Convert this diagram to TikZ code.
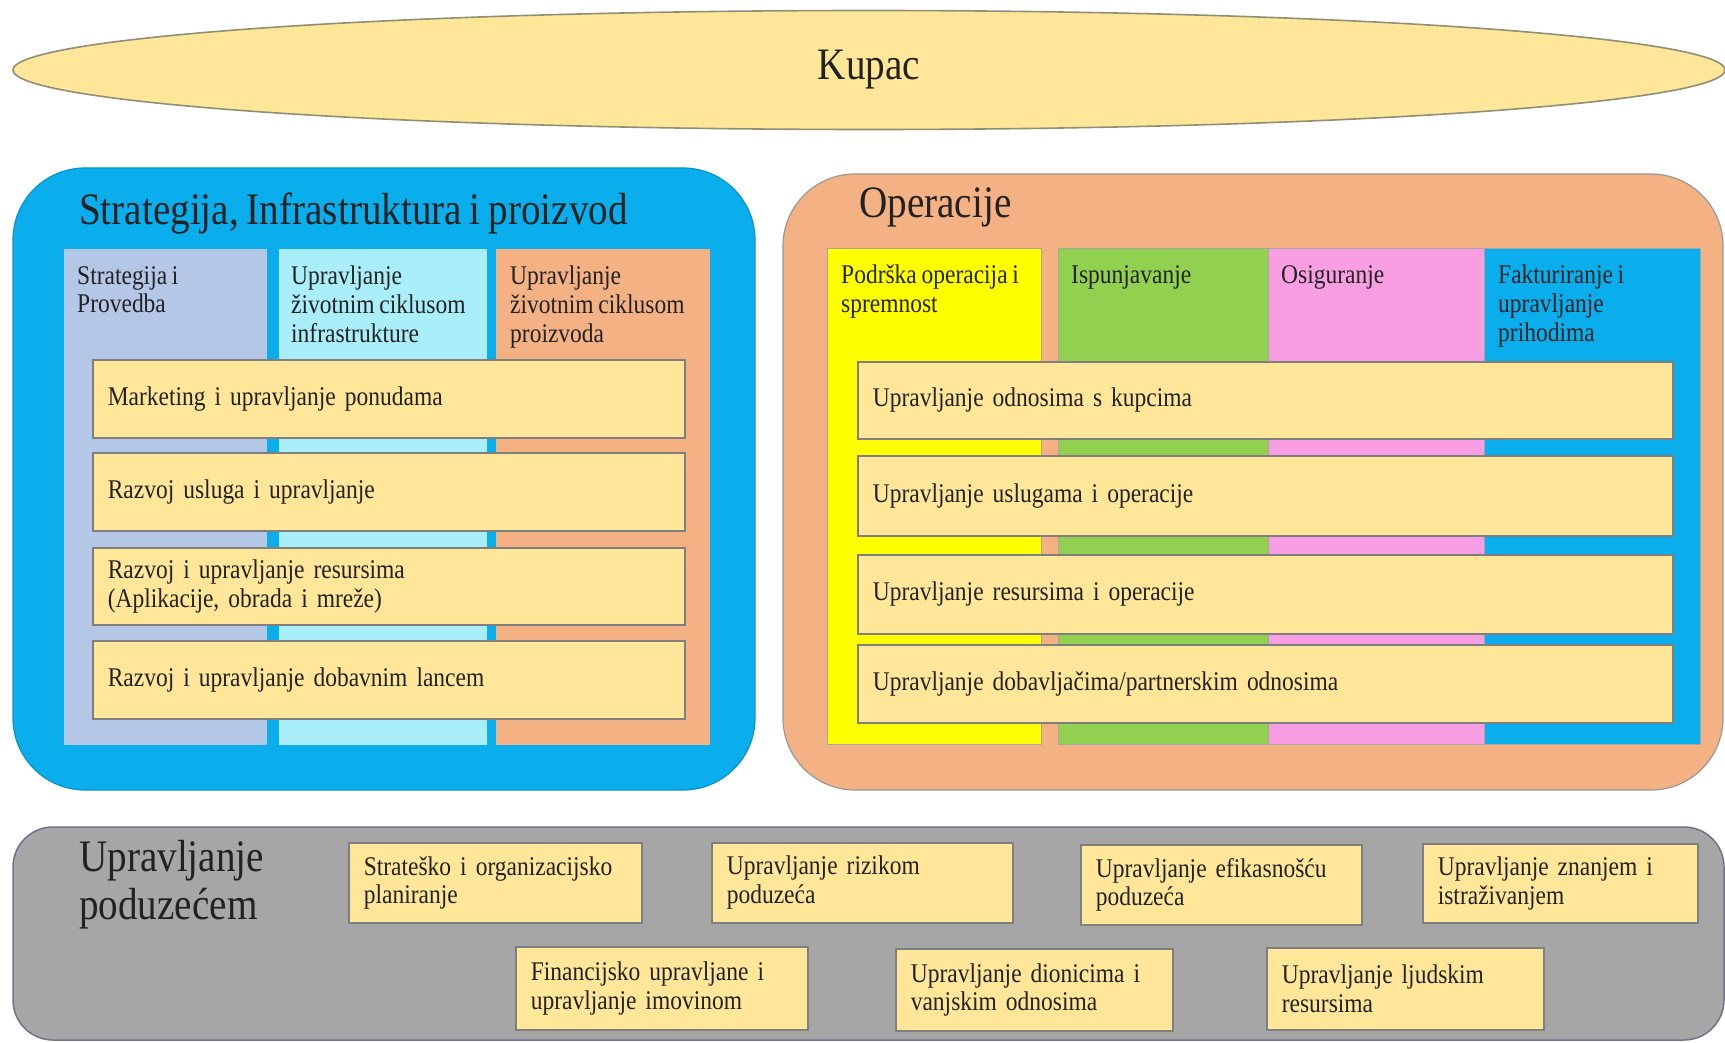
\documentclass[tikz,border=0pt]{standalone}
\usepackage{fontspec}
% slightly condensed Times-like face with tighter word spaces
\setmainfont{Liberation Serif}[FakeStretch=0.87, WordSpace=0.8]
\usetikzlibrary{shapes.geometric}

\definecolor{kgold}{HTML}{FFE699}
\definecolor{kgoldline}{HTML}{8F8F75}
\definecolor{sipblue}{HTML}{0BAEEC}
\definecolor{colsteel}{HTML}{B4C7E7}
\definecolor{colcyan}{HTML}{A9EEF9}
\definecolor{salmon}{HTML}{F4B183}
\definecolor{opyellow}{HTML}{FFFF00}
\definecolor{opgreen}{HTML}{92D050}
\definecolor{oppink}{HTML}{F99EE2}
\definecolor{upgray}{HTML}{A6A6A6}
\definecolor{boxline}{HTML}{7F7F7F}
\definecolor{inktext}{HTML}{222222}

\tikzset{
  bodyfont/.style={font=\fontsize{27}{28.6}\selectfont, text=inktext},
  titlefont/.style={font=\fontsize{45}{48}\selectfont, text=inktext},
  panel/.style={rounded corners=72pt, line width=1.2pt},
  colbox/.style={anchor=north west, inner sep=0pt, minimum height=496pt},
  colhead/.style={bodyfont, anchor=north west, inner sep=0pt, align=left},
  rowbar/.style={bodyfont, anchor=north west, fill=kgold, draw=boxline,
    line width=1.6pt, inner xsep=15pt, inner ysep=0pt, align=left},
  mgmtbox/.style={bodyfont, anchor=north west, fill=kgold, draw=boxline,
    line width=1.6pt, inner xsep=15pt, inner ysep=0pt, align=left}
}

\begin{document}
\begin{tikzpicture}[x=1pt, y=-1pt]
\useasboundingbox (0,0) rectangle (1725,1043);
\fill[white] (0,0) rectangle (1725,1043);

% customer ellipse
\node[ellipse, draw=kgoldline, line width=1.6pt, fill=kgold, minimum width=1712pt,
  minimum height=119pt, titlefont] (kupac) at (869,70) {Kupac};

% ---------- Strategy, infrastructure and product ----------
\draw[panel, fill=sipblue, draw=sipblue!85!black] (13,168) rectangle (755,790);
\node[titlefont, anchor=west, inner sep=0pt] (siptitle) at (79,214)
  {Strategija, Infrastruktura i proizvod};

\node[colbox, fill=colsteel, minimum width=203pt] (sipc1) at (64,249) {};
\node[colbox, fill=colcyan, minimum width=208pt] (sipc2) at (279,249) {};
\node[colbox, fill=salmon, minimum width=214pt] (sipc3) at (496,249) {};

\node[colhead] (siph1) at (77,266) {Strategija i\\Provedba};
\node[colhead] (siph2) at (291,266) {Upravljanje\\životnim ciklusom\\infrastrukture};
\node[colhead] (siph3) at (510,266) {Upravljanje\\životnim ciklusom\\proizvoda};

\node[rowbar, minimum width=592pt, text width=562pt, minimum height=78pt] (sipr1)
  at (92,359) {Marketing i upravljanje ponudama};
\node[rowbar, minimum width=592pt, text width=562pt, minimum height=78pt] (sipr2)
  at (92,452) {Razvoj usluga i upravljanje};
\node[rowbar, minimum width=592pt, text width=562pt, minimum height=77pt] (sipr3)
  at (92,547) {Razvoj i upravljanje resursima\\(Aplikacije, obrada i mreže)};
\node[rowbar, minimum width=592pt, text width=562pt, minimum height=78pt] (sipr4)
  at (92,640) {Razvoj i upravljanje dobavnim lancem};

% ---------- Operations ----------
\draw[panel, fill=salmon, draw=boxline!80] (783,174) rectangle (1723,790);
\node[titlefont, anchor=west, inner sep=0pt] (optitle) at (859,207) {Operacije};

\node[colbox, fill=opyellow, draw=boxline!70, line width=0.8pt, minimum width=214pt] (opc1) at (827,248) {};
\node[colbox, fill=opgreen, draw=boxline!70, line width=0.8pt, minimum width=210pt] (opc2) at (1058,248) {};
\node[colbox, fill=oppink, draw=boxline!70, line width=0.8pt, minimum width=216pt] (opc3) at (1268,248) {};
\node[colbox, fill=sipblue, draw=boxline!70, line width=0.8pt, minimum width=216pt] (opc4) at (1484,248) {};

\node[colhead] (oph1) at (841,265) {Podrška operacija i\\spremnost};
\node[colhead] (oph2) at (1071,265) {Ispunjavanje};
\node[colhead] (oph3) at (1281,265) {Osiguranje};
\node[colhead] (oph4) at (1498,265) {Fakturiranje i\\upravljanje\\prihodima};

\node[rowbar, minimum width=815pt, text width=785pt, minimum height=77pt] (opr1)
  at (857,361) {Upravljanje odnosima s kupcima};
\node[rowbar, minimum width=815pt, text width=785pt, minimum height=80pt] (opr2)
  at (857,455) {Upravljanje uslugama i operacije};
\node[rowbar, minimum width=815pt, text width=785pt, minimum height=79pt] (opr3)
  at (857,554) {Upravljanje resursima i operacije};
\node[rowbar, minimum width=815pt, text width=785pt, minimum height=78pt] (opr4)
  at (857,644) {Upravljanje dobavljačima/partnerskim odnosima};

% ---------- Enterprise management ----------
\draw[rounded corners=40pt, fill=upgray, draw=boxline!90!blue, line width=1.5pt]
  (13,827) rectangle (1724,1040);
\node[titlefont, anchor=west, inner sep=0pt, align=left] (mgmttitle) at (79,885)
  {Upravljanje\\poduzećem};

\node[mgmtbox, minimum width=293pt, text width=263pt, minimum height=80pt] (m1)
  at (348,842) {Strateško i organizacijsko\\planiranje};
\node[mgmtbox, minimum width=301pt, text width=271pt, minimum height=80pt] (m2)
  at (711,842) {Upravljanje rizikom\\poduzeća};
\node[mgmtbox, minimum width=281pt, text width=251pt, minimum height=80pt] (m3)
  at (1080,844) {Upravljanje efikasnošću\\poduzeća};
\node[mgmtbox, minimum width=275pt, text width=245pt, minimum height=79pt] (m4)
  at (1422,843) {Upravljanje znanjem i\\istraživanjem};
\node[mgmtbox, minimum width=292pt, text width=262pt, minimum height=83pt] (m5)
  at (515,946) {Financijsko upravljane i\\upravljanje imovinom};
\node[mgmtbox, minimum width=277pt, text width=247pt, minimum height=82pt] (m6)
  at (895,948) {Upravljanje dionicima i\\vanjskim odnosima};
\node[mgmtbox, minimum width=277pt, text width=247pt, minimum height=82pt] (m7)
  at (1266,947) {Upravljanje ljudskim\\resursima};
\end{tikzpicture}
\end{document}
